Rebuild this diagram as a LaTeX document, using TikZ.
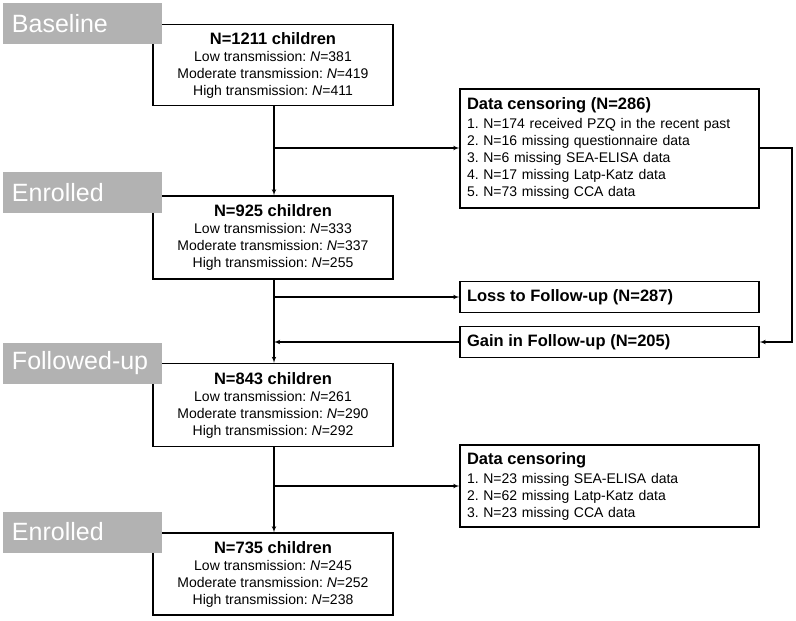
\documentclass[tikz,border=0pt]{standalone}
\usepackage{fontspec}
\setmainfont{Liberation Sans}
\usepackage{tikz}
\usetikzlibrary{arrows}
\tikzset{>=latex'}
\frenchspacing
\definecolor{stagegray}{RGB}{178,178,178}
\newcommand{\boxhead}[1]{{\fontsize{16.5}{17}\selectfont\bfseries #1}}

\begin{document}
\begin{tikzpicture}[x=1pt,y=-1pt,line width=1.1pt,
	stage/.style={fill=stagegray,text=white,text width=141pt,inner xsep=9pt,minimum height=41pt,align=left,font=\fontsize{25}{25}\selectfont},
	countbox/.style={draw,fill=white,minimum width=240pt,align=center,font=\fontsize{14}{17}\selectfont},
	sidebox/.style={draw,text width=285pt,inner xsep=7pt,align=left,font=\fontsize{14}{17}\selectfont}]
	\useasboundingbox (0,0) rectangle (796,621);
	% counts per stage
	\node[countbox,minimum height=81pt] (base) at (273,65) {\boxhead{N=1211 children}\\Low transmission: \textit{N}=381\\Moderate transmission: \textit{N}=419\\High transmission: \textit{N}=411};
	\node[countbox,minimum height=83pt] (enrol) at (273,237.5) {\boxhead{N=925 children}\\Low transmission: \textit{N}=333\\Moderate transmission: \textit{N}=337\\High transmission: \textit{N}=255};
	\node[countbox,minimum height=83pt] (follow) at (273,405) {\boxhead{N=843 children}\\Low transmission: \textit{N}=261\\Moderate transmission: \textit{N}=290\\High transmission: \textit{N}=292};
	\node[countbox,minimum height=82pt] (final) at (273,574) {\boxhead{N=735 children}\\Low transmission: \textit{N}=245\\Moderate transmission: \textit{N}=252\\High transmission: \textit{N}=238};
	% side boxes
	\node[sidebox,minimum height=119pt] (cens1) at (609.5,148.5) {\boxhead{Data censoring (N=286)}\\[2pt]1. N=174 received PZQ in the recent past\\2. N=16 missing questionnaire data\\3. N=6 missing SEA-ELISA data\\4. N=17 missing Latp-Katz data\\5. N=73 missing CCA data};
	\node[sidebox,minimum height=31pt] (loss) at (609.5,297) {\boxhead{Loss to Follow-up (N=287)}};
	\node[sidebox,minimum height=31pt] (gain) at (609.5,342) {\boxhead{Gain in Follow-up (N=205)}};
	\node[sidebox,minimum height=82pt] (cens2) at (609.5,486) {\boxhead{Data censoring}\\[2pt]1. N=23 missing SEA-ELISA data\\2. N=62 missing Latp-Katz data\\3. N=23 missing CCA data};
	% stage labels
	\node[stage] (lbase) at (82.5,23.5) {Baseline};
	\node[stage] (lenrol) at (82.5,192.5) {Enrolled};
	\node[stage] (lfollow) at (82.5,363.5) {Followed-up};
	\node[stage] (lfinal) at (82.5,532) {Enrolled};
	% connectors
	\coordinate (trunk1) at (274,148);
	\coordinate (trunk2) at (274,297);
	\coordinate (trunk3) at (274,486);
	\coordinate (loopR) at (792,148);
	\draw[->] (base.south -| trunk1) -- (enrol.north -| trunk1);
	\draw[->] (trunk1) -- (trunk1 -| cens1.west);
	\draw[->] (enrol.south -| trunk2) -- (follow.north -| trunk2);
	\draw[->] (trunk2) -- (trunk2 -| loss.west);
	\draw[->] (gain.west) -- (gain.west -| trunk2);
	\draw[->] (loopR -| cens1.east) -- (loopR) |- (gain.east);
	\draw[->] (follow.south -| trunk3) -- (final.north -| trunk3);
	\draw[->] (trunk3) -- (trunk3 -| cens2.west);
\end{tikzpicture}
\end{document}
